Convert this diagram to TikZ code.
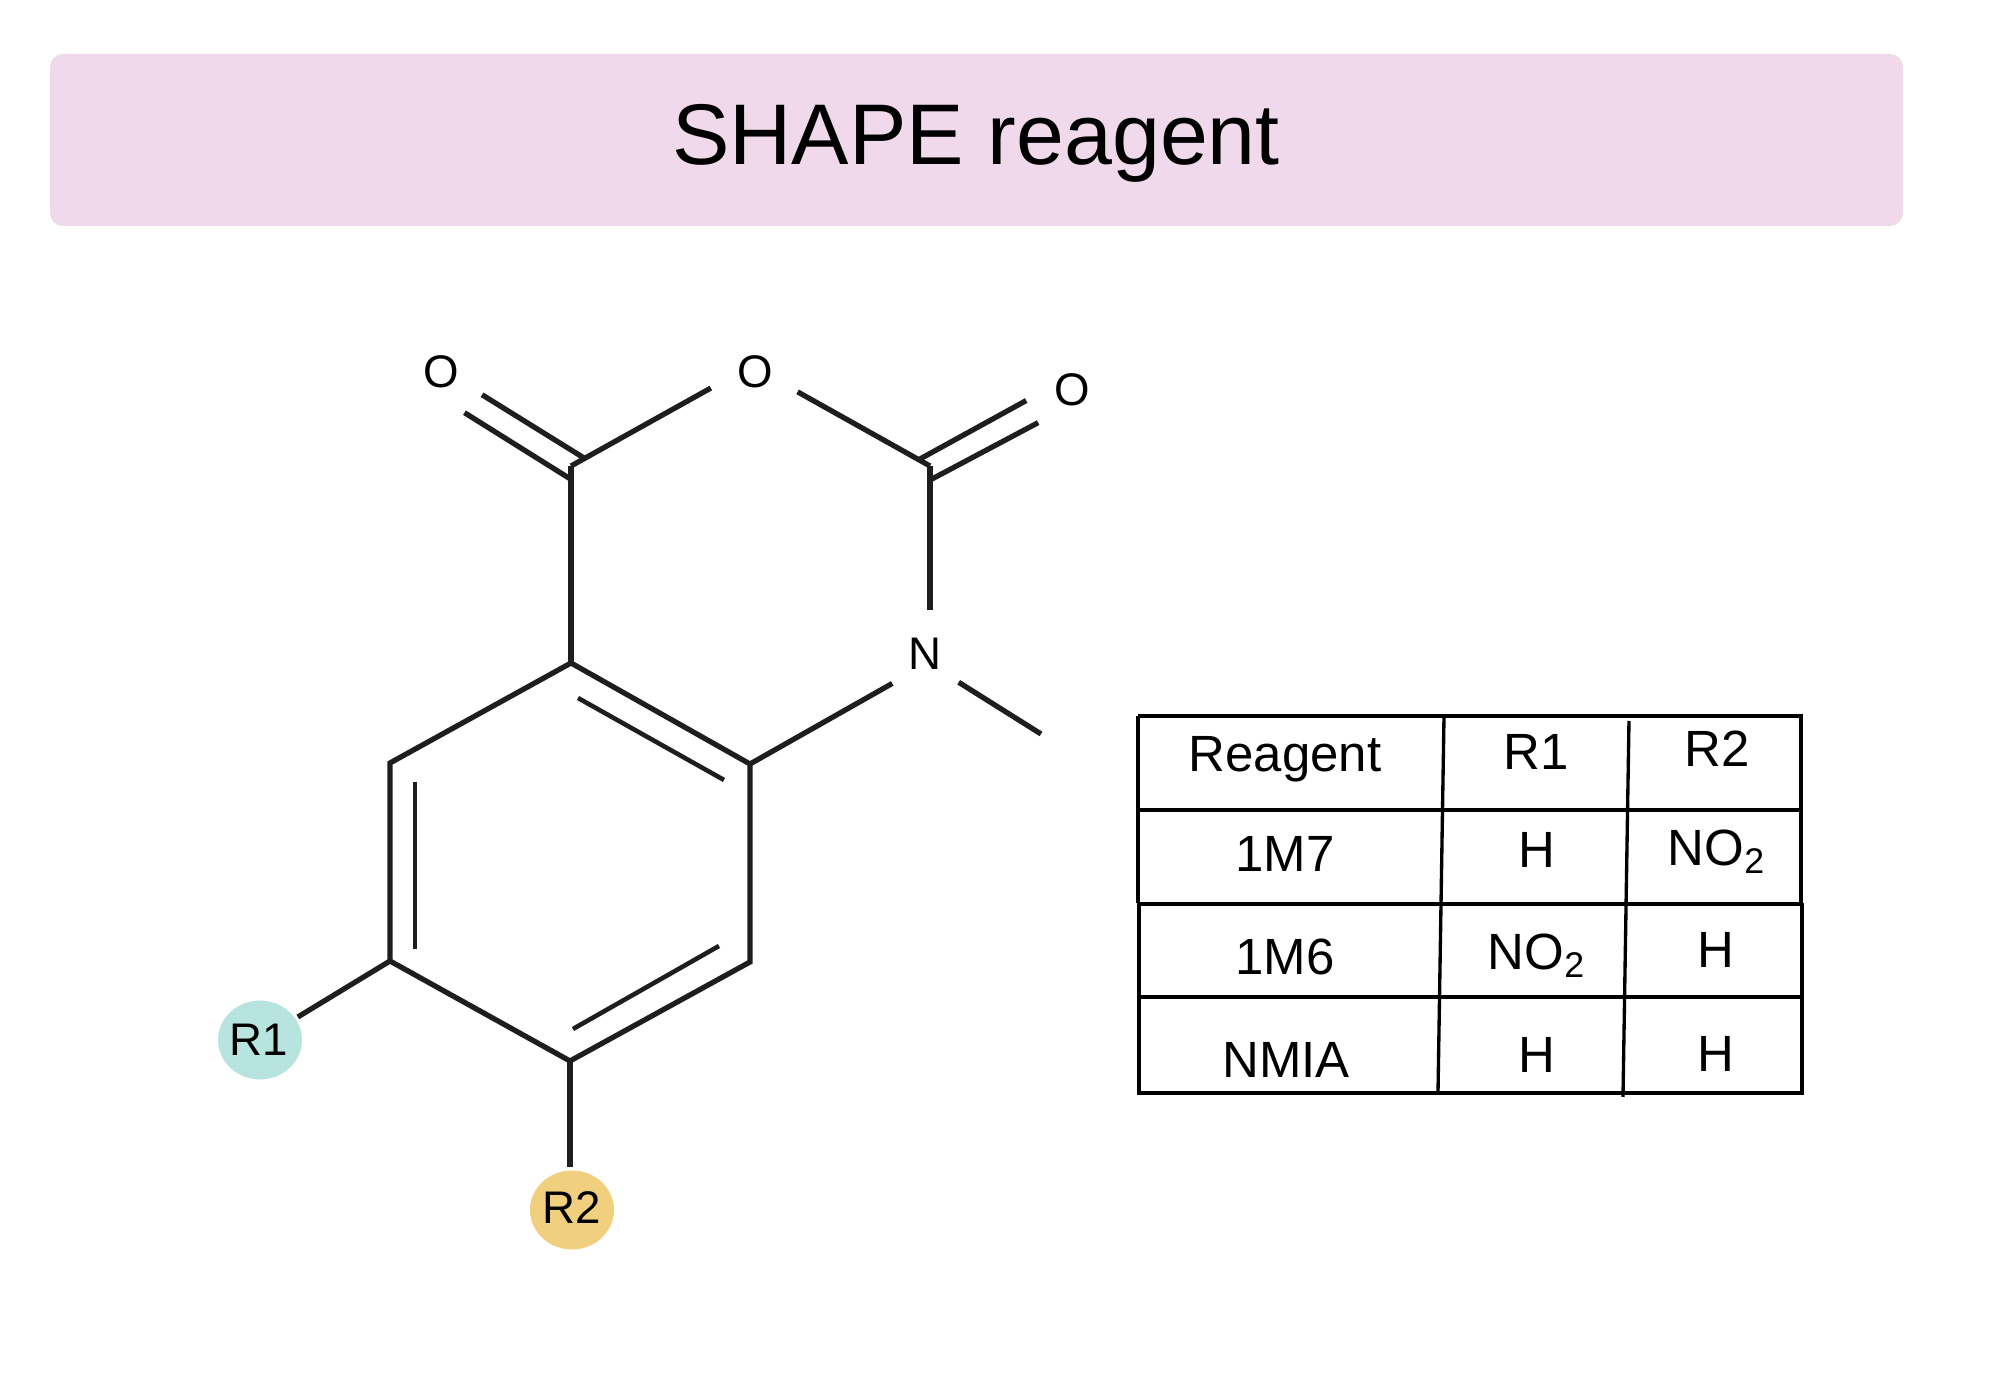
\documentclass[tikz,border=0pt]{standalone}
\usepackage{fontspec}
\setmainfont{Liberation Sans}
\usetikzlibrary{shapes.geometric}
\definecolor{headerpink}{HTML}{F0D9EA}
\definecolor{rteal}{HTML}{B8E4DF}
\definecolor{ryellow}{HTML}{F0CF7E}
\definecolor{bondgray}{HTML}{1E1E1E}
\newcommand\tabtext[3]{\node[cell text](#1)at(#3){#2};}
\newcommand\nitro{NO\textsubscript{2}}
\begin{document}
\begin{tikzpicture}[x=.1mm,y=-.1mm]
\useasboundingbox(0,0)rectangle(2000,1400);
% Styles for the atoms, bonds and the table
\tikzstyle{atom}=[circle,inner sep=0,outer sep=0,minimum size=9.4mm,font=\fontsize{13}{15}\selectfont];
\tikzstyle{group}=[ellipse,inner sep=0,outer sep=.3mm,minimum width=8.4mm,minimum height=7.9mm,font=\fontsize{13}{15}\selectfont];
\tikzstyle{bond}=[draw=bondgray,line width=1.5pt];
\tikzstyle{inner bond}=[draw=bondgray,line width=1.3pt];
\tikzstyle{table line}=[draw=black,line width=.95pt];
\tikzstyle{cell text}=[inner sep=0,font=\fontsize{14.5}{17}\selectfont];
% Header
\node(header)[fill=headerpink,rounded corners=1.3mm,minimum width=185.3mm,minimum height=17.2mm]at(976.5,140){};
\node(title)[font=\fontsize{24.5}{29}\selectfont,inner sep=0]at(976,143){SHAPE reagent};
% Ring vertices
\coordinate(cTL)at(571,466);
\coordinate(cTR)at(930,466);
\coordinate(rT)at(571,663);
\coordinate(rTR)at(750,764);
\coordinate(rBR)at(750,962);
\coordinate(rB)at(570,1061);
\coordinate(rBL)at(390,961);
\coordinate(rTL)at(390,763);
% Atoms and groups
\node(oMid)[atom]at(755,372){O};
\node(oLeft)[atom]at(441,372){O};
\node(oRight)[atom]at(1072,390){O};
\node(nAtom)[atom,minimum size=8.8mm]at(925,654){N};
\node(r1)[group,fill=rteal]at(260,1040){};
\node(r1text)[font=\fontsize{13}{15}\selectfont,inner sep=0]at(259,1040){R1};
\node(r2)[group,fill=ryellow]at(572,1210){};
\node(r2text)[font=\fontsize{13}{15}\selectfont,inner sep=0]at(572,1208){R2};
% Bonds
\draw[bond](cTL)--(oMid.200);
\draw[bond](cTR)--(oMid.-25);
\draw[bond](cTR)--(cTR|-nAtom.north);
\draw[bond](cTL)--(rT);
\draw[bond,line join=miter](rT)--(rTR)--(rBR)--(rB)--(rBL)--(rTL)--cycle;
\draw[bond](rTR)--(nAtom.222);
\draw[bond](rBL)--(r1);
\draw[bond](rB)--(rB|-r2.north);
\coordinate(methyl)at(1041,734);
\draw[bond](nAtom.-40)--(methyl);
% Second lines of the double bonds
\coordinate(dL1)at(584,458);
\coordinate(dL2)at(572,480);
\coordinate(dR1)at(920,459);
\coordinate(dR2)at(932,479);
\draw[bond](oLeft.-29)--(dL1);
\draw[bond](oLeft.-60)--(dL2);
\draw[bond](oRight.193)--(dR1);
\draw[bond](oRight.224)--(dR2);
\coordinate(iA1)at(578,698);
\coordinate(iA2)at(724,780);
\coordinate(iB1)at(415,782);
\coordinate(iB2)at(415,949);
\coordinate(iC1)at(573,1029);
\coordinate(iC2)at(719,946);
\draw[inner bond](iA1)--(iA2);
\draw[inner bond](iB1)--(iB2);
\draw[inner bond](iC1)--(iC2);
% Table
\draw[table line](1138,716)--(1801,716)--(1801,903);
\draw[table line](1138,716)--(1138,903);
\draw[table line](1139,903)--(1139,1093)--(1802,1093)--(1802,903);
\foreach \y in {810,904,997}
\draw[table line](1138,\y)--(1801,\y);
\draw[table line](1444,717)--(1438,1093);
\draw[table line](1629,721)--(1623,1097);
% Table entries
\tabtext{reagent}{Reagent}{1285,759}
\tabtext{headOne}{R1}{1536,752}
\tabtext{headTwo}{R2}{1717,749}
\tabtext{mSeven}{1M7}{1285,854}
\tabtext{mSevenA}{H}{1537,850}
\tabtext{mSevenB}{\nitro}{1717,852}
\tabtext{mSix}{1M6}{1285,957}
\tabtext{mSixA}{\nitro}{1537,956}
\tabtext{mSixB}{H}{1716,950}
\tabtext{nmia}{NMIA}{1286,1060}
\tabtext{nmiaA}{H}{1537,1055}
\tabtext{nmiaB}{H}{1716,1054}
\end{tikzpicture}
\end{document}
